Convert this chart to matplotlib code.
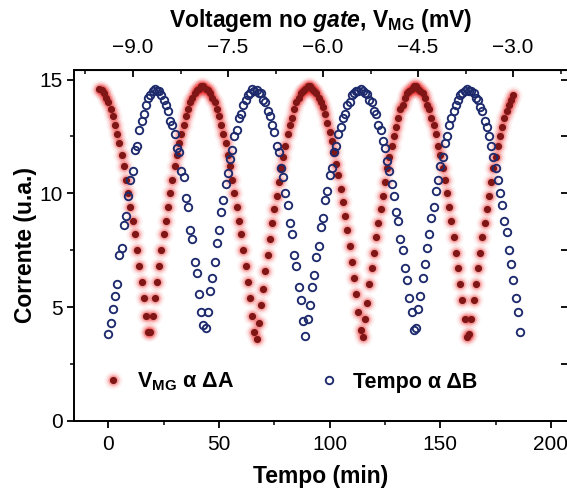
import matplotlib
matplotlib.use('Agg')
import matplotlib.pyplot as plt
from matplotlib.legend_handler import HandlerTuple
from matplotlib.ticker import MultipleLocator, FuncFormatter

plt.rcParams['font.family'] = ['Liberation Sans', 'DejaVu Sans']
plt.rcParams['mathtext.fontset'] = 'custom'
plt.rcParams['mathtext.rm'] = 'Liberation Sans:bold'
plt.rcParams['mathtext.bf'] = 'Liberation Sans:bold'
plt.rcParams['mathtext.it'] = 'Liberation Sans:italic:bold'

# corrente com V_MG (pontos cheios), um ponto por minuto
tempo_vmg = [
    -4, -3, -2, -1, 0, 1, 2, 3, 4, 5, 6, 7, 8, 9, 10, 11, 12, 13, 14, 15,
    16, 17, 18, 19, 20, 21, 22, 23, 24, 25, 26, 27, 28, 29, 30, 31, 32, 33, 34, 35,
    36, 37, 38, 39, 40, 41, 42, 43, 44, 45, 46, 47, 48, 49, 50, 51, 52, 53, 54, 55,
    56, 57, 58, 59, 60, 61, 62, 63, 64, 65, 66, 67, 68, 69, 70, 71, 72, 73, 74, 75,
    76, 77, 78, 79, 80, 81, 82, 83, 84, 85, 86, 87, 88, 89, 90, 91, 92, 93, 94, 95,
    96, 97, 98, 99, 100, 101, 102, 103, 104, 105, 106, 107, 108, 109, 110, 111, 112, 113, 114, 115,
    116, 117, 118, 119, 120, 121, 122, 123, 124, 125, 126, 127, 128, 129, 130, 131, 132, 133, 134, 135,
    136, 137, 138, 139, 140, 141, 142, 143, 144, 145, 146, 147, 148, 149, 150, 151, 152, 153, 154, 155,
    156, 157, 158, 159, 160, 161, 162, 163, 164, 165, 166, 167, 168, 169, 170, 171, 172, 173, 174, 175,
    176, 177, 178, 179, 180, 181, 182, 183]
corrente_vmg = [
    14.6, 14.55, 14.4, 14.2, 14.0, 13.7, 13.4, 13.0, 12.6, 12.2, 11.7, 11.2, 10.6, 10.0, 9.4, 8.8,
    8.2, 7.5, 6.8, 6.1, 5.4, 4.6, 3.9,
    3.9, 4.6, 5.4, 6.1, 6.8, 7.5, 8.2, 8.8, 9.4, 10.0, 10.6, 11.2, 11.7, 12.2, 12.6, 13.0,
    13.4, 13.7, 14.0, 14.2, 14.4, 14.55, 14.6, 14.7, 14.7, 14.6, 14.55, 14.4, 14.2, 14.0, 13.7, 13.4,
    13.0, 12.6, 12.2, 11.7, 11.2, 10.6, 10.0, 9.4, 8.8, 8.2, 7.5, 6.8, 6.1, 5.4, 4.6, 3.9,
    3.6, 4.3, 5.1, 5.8, 6.6, 7.3, 8.0, 8.7, 9.3, 9.9, 10.5, 11.1, 11.6, 12.1, 12.6, 13.0,
    13.3, 13.7, 14.0, 14.2, 14.4, 14.5, 14.6, 14.7, 14.7, 14.6, 14.5, 14.4, 14.2, 14.0, 13.8, 13.5,
    13.1, 12.7, 12.3, 11.8, 11.3, 10.8, 10.2, 9.6, 9.0, 8.4, 7.7, 7.0, 6.3, 5.6, 4.8, 4.0,
    3.7, 4.5, 5.2, 6.0, 6.7, 7.4, 8.1, 8.7, 9.3, 9.9, 10.5, 11.1, 11.6, 12.1, 12.5, 12.9,
    13.3, 13.7, 13.9, 14.2, 14.4, 14.5, 14.6, 14.7, 14.7, 14.6, 14.5, 14.4, 14.2, 13.9, 13.7, 13.3,
    13.0, 12.6, 12.1, 11.7, 11.1, 10.6, 10.0, 9.4, 8.8, 8.1, 7.4, 6.7, 6.0, 5.3, 4.5, 3.7,
    3.8, 4.5, 5.3, 6.0, 6.7, 7.4, 8.1, 8.7, 9.3, 9.9, 10.5, 11.1, 11.6, 12.1, 12.5, 12.9,
    13.3, 13.6, 13.9, 14.1, 14.3]

# corrente em funcao do tempo (circulos abertos)
tempo_b = [
    0, 1, 2, 3, 4, 5, 6, 7, 8, 9, 10, 11, 12, 13, 14, 15, 16, 17, 18, 19,
    20, 21, 22, 23, 24, 25, 26, 27, 28, 29, 30, 31, 32, 33, 34, 35, 36, 37, 38, 39,
    40, 41, 42, 43, 44, 45, 46, 47, 48, 49, 50, 51, 52, 53, 54, 55, 56, 57, 58, 59,
    60, 61, 62, 63, 64, 65, 66, 67, 68, 69, 70, 71, 72, 73, 74, 75, 76, 77, 78, 79,
    80, 81, 82, 83, 84, 85, 86, 87, 88, 89, 90, 91, 92, 93, 94, 95, 96, 97, 98, 99,
    100, 101, 102, 103, 104, 105, 106, 107, 108, 109, 110, 111, 112, 113, 114, 115, 116, 117, 118, 119,
    120, 121, 122, 123, 124, 125, 126, 127, 128, 129, 130, 131, 132, 133, 134, 135, 136, 137, 138, 139,
    140, 141, 142, 143, 144, 145, 146, 147, 148, 149, 150, 151, 152, 153, 154, 155, 156, 157, 158, 159,
    160, 161, 162, 163, 164, 165, 166, 167, 168, 169, 170, 171, 172, 173, 174, 175, 176, 177, 178, 179,
    180, 181, 182, 183, 184, 185, 186]
corrente_b = [
    3.8, 4.3, 4.9, 5.5, 6.0, 7.3, 7.6, 8.6, 9.0, 9.9, 10.6, 11.0, 11.9, 12.1, 12.8, 13.2,
    13.5, 13.9, 14.2, 14.3, 14.5, 14.6, 14.5, 14.5, 14.3, 14.1, 13.9, 13.6, 13.2, 13.0, 12.6, 12.0,
    11.8, 11.0, 10.7, 9.8, 9.4, 8.4, 8.0, 7.0, 6.5, 5.6, 4.8, 4.2,
    4.1, 4.8, 5.7, 6.3, 7.0, 7.8, 8.4, 9.2, 9.7, 10.4, 10.9, 11.5, 11.9, 12.5, 12.8, 13.3,
    13.5, 13.9, 14.1, 14.3, 14.4, 14.6, 14.5, 14.55, 14.4, 14.4, 14.1, 14.0, 13.6, 13.4, 13.0, 12.7,
    12.1, 11.8, 11.1, 10.7, 10.0, 9.5, 8.7, 8.2, 7.3, 6.8, 5.9, 5.3, 4.4,
    3.75, 4.5, 5.1, 5.9, 6.4, 7.2, 7.7, 8.5, 8.9, 9.7, 10.1, 10.8, 11.1, 11.8, 12.1, 12.6,
    12.9, 13.3, 13.5, 13.9, 14.0, 14.3, 14.4, 14.5, 14.5, 14.6, 14.5, 14.4, 14.35, 14.1, 14.0, 13.6,
    13.5, 13.0, 12.8, 12.3, 12.0, 11.4, 11.0, 10.4, 9.9, 9.2, 8.8, 8.0, 7.5, 6.7, 6.2, 5.4,
    4.8, 4.0,
    4.1, 4.9, 5.5, 6.3, 6.9, 7.6, 8.2, 8.9, 9.4, 10.1, 10.6, 11.2, 11.6, 12.2, 12.5, 13.0,
    13.3, 13.6, 13.9, 14.1, 14.3, 14.4, 14.5, 14.6, 14.5, 14.5, 14.4, 14.2, 14.1, 13.8, 13.6, 13.2,
    12.9, 12.5, 12.1, 11.6, 11.1, 10.6, 10.0, 9.5, 8.8, 8.3, 7.5, 6.9, 6.2, 5.4, 4.8, 3.9]

top_ticks = [-9.0, -7.5, -6.0, -4.5, -3.0]
label_a = r'V$_{\mathbf{MG}}$ α ΔA'
label_b = 'Tempo α ΔB'


def t2v(t):
    return -9.0 + (t - 11.16) * 0.034944


def v2t(v):
    return 11.16 + (v + 9.0) / 0.034944


fig = plt.figure(figsize=(5.67, 4.91), dpi=100)
ax = fig.add_axes([0.1305, 0.1426, 0.8713, 0.7149])

# brilho vermelho em volta dos pontos cheios
glow = []
for ms, a in [(13, 0.06), (10, 0.12), (7.5, 0.25)]:
    g, = ax.plot(tempo_vmg, corrente_vmg, 'o', ms=ms, color='#f01818',
                 alpha=a, mec='none', zorder=2)
    glow.append(g)
dots, = ax.plot(tempo_vmg, corrente_vmg, 'o', ms=5.2, color='#801515',
                mec='none', zorder=3)
rings, = ax.plot(tempo_b, corrente_b, 'o', ms=5.4, mfc='none', mec='#1d2a6c',
                 mew=1.35, zorder=4)

ax.set_xlim(-15.5, 207.7)
ax.set_ylim(0, 15.42)
ax.xaxis.set_major_locator(MultipleLocator(50))
ax.xaxis.set_minor_locator(MultipleLocator(25))
ax.yaxis.set_major_locator(MultipleLocator(5))
ax.yaxis.set_minor_locator(MultipleLocator(2.5))
ax.tick_params(which='major', direction='out', length=5, width=1.3,
               labelsize=15, pad=3)
ax.tick_params(axis='x', which='major', pad=5)
ax.tick_params(which='minor', direction='out', length=3, width=1.1)
for s in ax.spines.values():
    s.set_linewidth(1.4)

ax.set_xlabel('Tempo (min)', fontsize=16.5, fontweight='bold', labelpad=8)
ax.set_ylabel('Corrente (u.a.)', fontsize=16.5, fontweight='bold', labelpad=1.5)

top = ax.secondary_xaxis('top', functions=(t2v, v2t))
top.set_xticks(top_ticks)
top.xaxis.set_minor_locator(MultipleLocator(0.75))
top.xaxis.set_major_formatter(FuncFormatter(
    lambda v, p: f'{v:.1f}'.replace('-', '\u2212')))
top.tick_params(which='major', direction='in', length=5, width=1.3,
                labelsize=15, pad=9)
top.tick_params(which='minor', direction='in', length=3, width=1.1)
top.set_xlabel(r'Voltagem no $\mathit{gate}$, V$_{\mathbf{MG}}$ (mV)',
               fontsize=16.5, fontweight='bold', labelpad=8)

right = ax.secondary_yaxis('right')
right.yaxis.set_major_locator(MultipleLocator(5))
right.yaxis.set_minor_locator(MultipleLocator(2.5))
right.tick_params(which='both', direction='in', length=5, width=1.3,
                  labelright=False)

ax.legend([tuple(glow + [dots]), rings], [label_a, label_b],
          handler_map={tuple: HandlerTuple(ndivide=1, pad=0)},
          loc='center left', bbox_to_anchor=(0.057, 0.111), ncol=2,
          frameon=False, borderpad=0, borderaxespad=0, handlelength=1.0,
          handletextpad=0.63, columnspacing=3.9,
          prop={'size': 15.5, 'weight': 'bold'})

fig.savefig('out.png', dpi=100)
